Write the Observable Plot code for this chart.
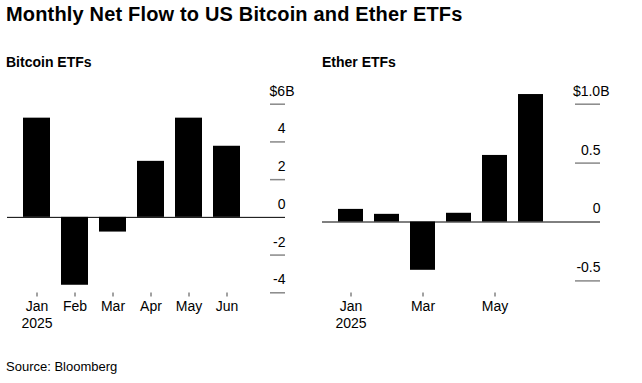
<!DOCTYPE html>
<html><head><meta charset="utf-8">
<script src="https://cdn.jsdelivr.net/npm/d3@7"></script>
<script src="https://cdn.jsdelivr.net/npm/@observablehq/plot@0.6"></script>
<style>
body{margin:0;background:#fff;font-family:"Liberation Sans",Arial,sans-serif;}
#wrap{position:relative;width:642px;height:383px;overflow:hidden;background:#fff;}
.t{position:absolute;white-space:nowrap;color:#000;}
#title{left:6px;top:2px;font-size:20px;line-height:24px;font-weight:bold;letter-spacing:0.17px;}
.sub{top:54px;font-size:14px;line-height:16px;font-weight:bold;}
#src{left:6px;top:359px;font-size:13px;line-height:15px;}
#p1{position:absolute;left:0;top:80px;}
#p2{position:absolute;left:310px;top:80px;}
</style></head>
<body><div id="wrap">
<div id="title" class="t">Monthly Net Flow to US Bitcoin and Ether ETFs</div>
<div class="t sub" style="left:6px">Bitcoin ETFs</div>
<div class="t sub" style="left:322px">Ether ETFs</div>
<div id="p1"></div><div id="p2"></div>
<div id="src" class="t">Source: Bloomberg</div>
</div>
<script>
const months = ["Jan", "Feb", "Mar", "Apr", "May", "Jun"];
const bitcoinFlows = [5.26, -3.6, -0.78, 2.97, 5.26, 3.77];
const etherFlows = [0.107, 0.065, -0.41, 0.074, 0.565, 1.082];
const bitcoinYTicks = [-4, -2, 0, 2, 4, 6];
const bitcoinYLabels = ["-4", "-2", "0", "2", "4", "$6B"];
const etherYTicks = [-0.5, 0, 0.5, 1.0];
const etherYLabels = ["-0.5", "0", "0.5", "$1.0B"];
const bitcoinXTicks = ["Jan", "Feb", "Mar", "Apr", "May", "Jun"];
const etherXTicks = ["Jan", "Mar", "May"];
const yearLabel = "2025";

const FONT = '"Liberation Sans", Arial, sans-serif';

function panel(o) {
  const data = months.map((m, i) => ({month: m, value: o.values[i]}));
  const H = 255;
  const frameBottom = 212.5;
  const frameW = o.width - o.marginLeft - o.marginRight;
  const n = o.yTicks.length;
  return Plot.plot({
    width: o.width,
    height: H,
    marginLeft: o.marginLeft,
    marginRight: o.marginRight,
    marginTop: 0,
    marginBottom: H - frameBottom,
    style: {fontFamily: FONT, fontSize: "14px", color: "#000", background: "transparent", overflow: "visible"},
    x: {domain: months, range: o.xRange, paddingInner: 0.3, paddingOuter: o.pOuter, axis: null, label: null},
    y: {domain: o.yDomain, range: o.yRange, axis: null, label: null},
    marks: [
      Plot.tickY(o.yTicks.filter(d => d !== 0), {y: d => d, stroke: "#888", strokeWidth: 1.5, insetLeft: frameW - o.tickW}),
      Plot.barY(data, {x: "month", y: "value", fill: "#000"}),
      Plot.ruleY([0], {stroke: "#000", strokeWidth: 1}),
      Plot.text(o.yTicks.slice(0, n - 1), {y: d => d, text: (d, i) => o.yLabels[i], frameAnchor: "right", textAnchor: "end", dy: -13, fill: "#000", fontSize: 14}),
      Plot.text([o.yTicks[n - 1]], {y: d => d, text: () => o.yLabels[n - 1], frameAnchor: "right", textAnchor: "end", dx: 9, dy: -13, fill: "#000", fontSize: 14}),
      Plot.axisX(o.xTicks, {tickSize: 4, tickPadding: 3, stroke: "#444", fill: "#000", fontSize: 14, lineHeight: 1.15, label: null,
        tickFormat: d => d === "Jan" ? "Jan\n" + yearLabel : d})
    ]
  });
}

document.getElementById("p1").append(panel({
  values: bitcoinFlows, width: 310, marginLeft: 7, marginRight: 25,
  xRange: [7, 255.8], pOuter: 0.39,
  yDomain: [-4, 6], yRange: [212.3, 23.7],
  yTicks: bitcoinYTicks, yLabels: bitcoinYLabels, tickW: 15, xTicks: bitcoinXTicks
}));
document.getElementById("p2").append(panel({
  values: etherFlows, width: 332, marginLeft: 12, marginRight: 42,
  xRange: [12, 250.2], pOuter: 0.41,
  yDomain: [-0.5, 1.0], yRange: [200.4, 23.7],
  yTicks: etherYTicks, yLabels: etherYLabels, tickW: 25, xTicks: etherXTicks
}));
</script>
</body></html>
